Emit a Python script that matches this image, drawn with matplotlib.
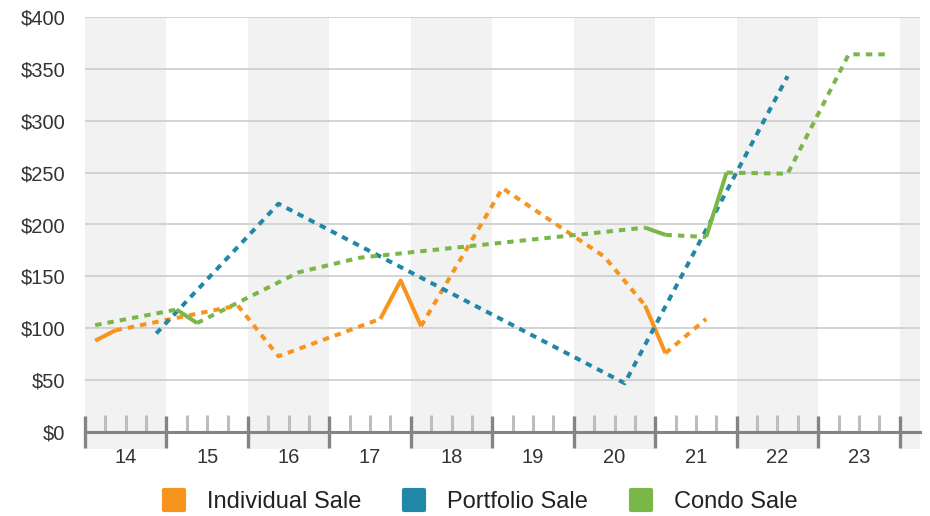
import matplotlib.pyplot as plt
from matplotlib.lines import Line2D
from matplotlib.markers import MarkerStyle
from matplotlib.ticker import FixedLocator, FixedFormatter, FuncFormatter

plt.rcParams['font.family'] = ['Liberation Sans', 'DejaVu Sans']

#------------------------------------------------------------------------------
# data: x = year + quarter midpoint (Q1 -> .125, Q2 -> .375, Q3 -> .625, Q4 -> .875)
years = ['14', '15', '16', '17', '18', '19', '20', '21', '22', '23']

indiv_x = [14.125, 14.375, 15.875, 16.375, 17.625, 17.875, 18.125, 19.125, 20.375, 20.875, 21.125, 21.625]
indiv_y = [88, 98, 122, 73, 109, 146, 102, 235, 169, 122, 76, 109]

portf_x = [14.875, 16.375, 20.625, 22.625]
portf_y = [95, 220, 47, 343]

condo_x = [14.125, 15.125, 15.375, 16.625, 17.375, 20.875, 21.125, 21.625, 21.875, 22.625, 23.375, 23.875]
condo_y = [103, 118, 105, 154, 168, 197, 190, 188, 250, 249, 364, 364]

names = ['Individual Sale', 'Portfolio Sale', 'Condo Sale']
colors = ['#F7941D', '#2187A7', '#7AB648']

#------------------------------------------------------------------------------
"""
split a series into runs: solid where quarters are consecutive, dashed across gaps
"""
def DrawSeries(ax, xs, ys, color):

    segs = []
    for i in range(1, len(xs)):
        solid = abs(xs[i] - xs[i-1] - 0.25) < 1e-6
        if segs and segs[-1][0] == solid:
            segs[-1][1].append(i)
        else:
            segs.append([solid, [i-1, i]])

    for solid, idx in segs:
        sx = [xs[k] for k in idx]
        sy = [ys[k] for k in idx]
        if solid:
            ax.plot(sx, sy, color=color, lw=2.9, solid_capstyle='butt', zorder=3)
        else:
            ax.plot(sx, sy, color=color, lw=2.9, dashes=(1.6, 1.5),
                    dash_capstyle='butt', zorder=3)

#------------------------------------------------------------------------------
fig = plt.figure(figsize=(9.3, 5.16), dpi=100)
ax = fig.add_axes([85/930, 1-448.6/516, 835/930, (448.6-17)/516])

#alternate shaded years
for yr in range(14, 25, 2):
    ax.axvspan(yr, yr+1, color='#f2f2f2', lw=0, zorder=0)

for xs, ys, c in zip([indiv_x, portf_x, condo_x], [indiv_y, portf_y, condo_y], colors):
    DrawSeries(ax, xs, ys, c)

ax.set_xlim(14, 24.25)
ax.set_ylim(-16, 400)

#y axis
ax.set_yticks(range(0, 401, 50))
ax.yaxis.set_major_formatter(FuncFormatter(lambda v, p: '${:.0f}'.format(v)))
ax.yaxis.grid(True, color='#cccccc', lw=1.2)
ax.set_axisbelow(True)
ax.tick_params(axis='y', length=0, pad=14, labelsize=14.5, labelcolor='#333333')

#x axis
for s in ['left', 'right', 'top']:
    ax.spines[s].set_visible(False)
ax.spines['bottom'].set_position(('data', 0))
ax.spines['bottom'].set_color('#848484')
ax.spines['bottom'].set_linewidth(2.2)

ax.xaxis.set_major_locator(FixedLocator(range(14, 25)))
ax.tick_params(axis='x', which='major', direction='inout', length=23, width=2.4,
               color='#848484', labelbottom=False)

minor_pos = []
minor_lab = []
for k, y in enumerate(years):
    for q in [0.25, 0.5, 0.75]:
        minor_pos.append(14 + k + q)
        minor_lab.append(y if q == 0.5 else '')
ax.xaxis.set_minor_locator(FixedLocator(minor_pos))
ax.xaxis.set_minor_formatter(FixedFormatter(minor_lab))
ax.tick_params(axis='x', which='minor', direction='in', length=12, width=2.2,
               color='#bdbdbd', pad=11.5, labelsize=14.5, labelcolor='#333333')

#legend
handles = [Line2D([], [], ls='', marker=MarkerStyle('s', joinstyle='round'), ms=14, mew=3,
                  mfc=c, mec=c) for c in colors]
leg = fig.legend(handles, names, loc='center', bbox_to_anchor=(480/930, 1-502/516), ncol=3,
                 frameon=False, fontsize=17, handlelength=1.0, handletextpad=0.9,
                 columnspacing=1.74, borderpad=0, borderaxespad=0)
for t in leg.get_texts():
    t.set_color('#222222')

plt.savefig('out.png', dpi=100)
plt.close()
